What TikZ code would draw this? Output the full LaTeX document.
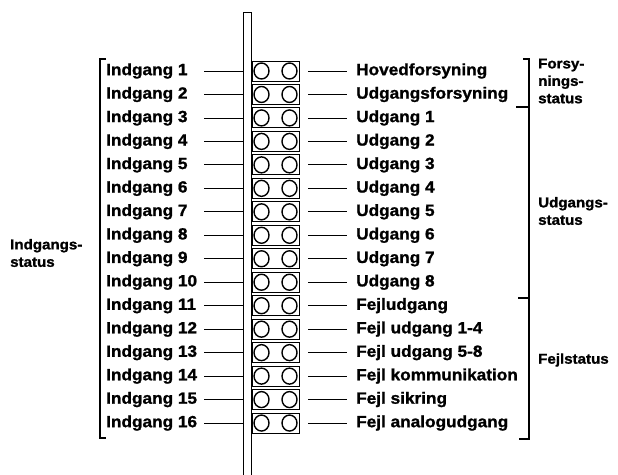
\documentclass[tikz,border=0pt]{standalone}
\usepackage{fontspec}
\usetikzlibrary{shapes.geometric}
\setmainfont{Liberation Sans}
\newfontfamily\heavyfont{Liberation Sans Bold}[FakeBold=1.2,FakeStretch=1.06]
\begin{document}
\begin{tikzpicture}[x=1bp,y=-1bp,
  lbl/.style={anchor=west,inner sep=0pt,font=\heavyfont\bfseries\fontsize{16.3}{18}\selectfont},
  grp/.style={anchor=west,inner sep=0pt,align=left,font=\heavyfont\bfseries\fontsize{14.3}{17.5}\selectfont},
  conn/.style={line width=0.8bp},
  ledbox/.style={draw,line width=0.9bp,minimum width=47bp,minimum height=20bp,inner sep=0pt},
  led/.style={draw,line width=1.4bp,ellipse,minimum width=15bp,minimum height=16bp,inner sep=0pt},
  brk/.style={line width=1.1bp}]
\useasboundingbox (0,0) rectangle (618,475);
% vertical bar
\draw[conn] (243,475) -- (243,12) -- (251,12) -- (251,475);
\foreach \i/\l/\r in {1/Indgang 1/Hovedforsyning,2/Indgang 2/Udgangsforsyning,3/Indgang 3/Udgang 1,4/Indgang 4/Udgang 2,5/Indgang 5/Udgang 3,6/Indgang 6/Udgang 4,7/Indgang 7/Udgang 5,8/Indgang 8/Udgang 6,9/Indgang 9/Udgang 7,10/Indgang 10/Udgang 8,11/Indgang 11/Fejludgang,12/Indgang 12/Fejl udgang 1-4,13/Indgang 13/Fejl udgang 5-8,14/Indgang 14/Fejl kommunikation,15/Indgang 15/Fejl sikring,16/Indgang 16/Fejl analogudgang}{
  \pgfmathsetmacro\yy{71+(\i-1)*23.47}
  \node[lbl] (L\i) at (106,\yy) {\l};
  \node[ledbox] (B\i) at (275.5,\yy) {};
  \node[led] (A\i) at (261.5,\yy) {};
  \node[led] (C\i) at (289.5,\yy) {};
  \coordinate (ls\i) at (204,\yy);
  \coordinate (le\i) at (243,\yy);
  \coordinate (rs\i) at (308,\yy);
  \coordinate (re\i) at (347,\yy);
  \node[lbl] (R\i) at (356,\yy) {\r};
  \draw[conn] (ls\i) -- (le\i);
  \draw[conn] (rs\i) -- (re\i);
}
% left bracket
\draw[brk] (106,59) -- (100,59) -- (100,438) -- (106,438);
\node[grp] (gin) at (10,253) {Indgangs-\\status};
% right bracket
\draw[brk] (523,59) -- (529,59) -- (529,439) -- (519,439);
\draw[brk] (516,107) -- (529,107);
\draw[brk] (518,298) -- (529,298);
\node[grp] (gfor) at (538,81) {Forsy-\\nings-\\status};
\node[grp] (gud) at (538,211) {Udgangs-\\status};
\node[grp] (gfe) at (538,360) {Fejlstatus};
\end{tikzpicture}
\end{document}
